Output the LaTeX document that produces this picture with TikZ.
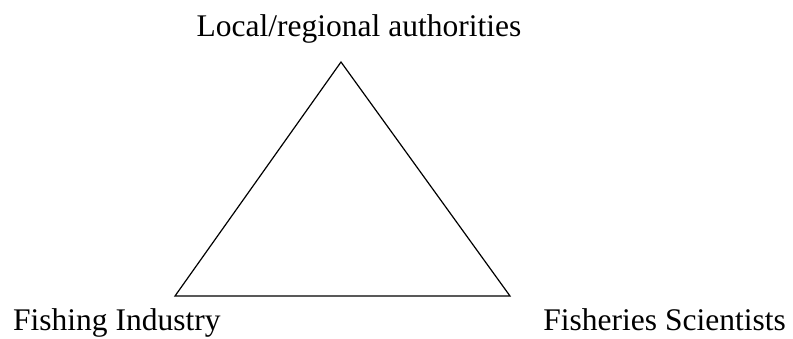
\documentclass[tikz,border=0pt]{standalone}
\usepackage{fontspec}
\setmainfont{Liberation Serif}
\begin{document}
\begin{tikzpicture}[x=1pt,y=1pt,font=\fontsize{31.5}{36}\selectfont]
		\useasboundingbox (0,0) rectangle (793,338);
		\coordinate (top) at (341,276);
		\coordinate (left) at (175,42);
		\coordinate (right) at (510,42);
		\draw[line width=1.2pt,line join=miter] (top) -- (left) -- (right) -- cycle;
		\node[anchor=base,inner sep=0pt] (auth) at (359,301) {Local/regional authorities};
		\node[anchor=base west,inner sep=0pt] (ind) at (13,7.5) {Fishing Industry};
		\node[anchor=base east,inner sep=0pt] (sci) at (786,7.5) {Fisheries Scientists};
		
		\end{tikzpicture}
\end{document}
